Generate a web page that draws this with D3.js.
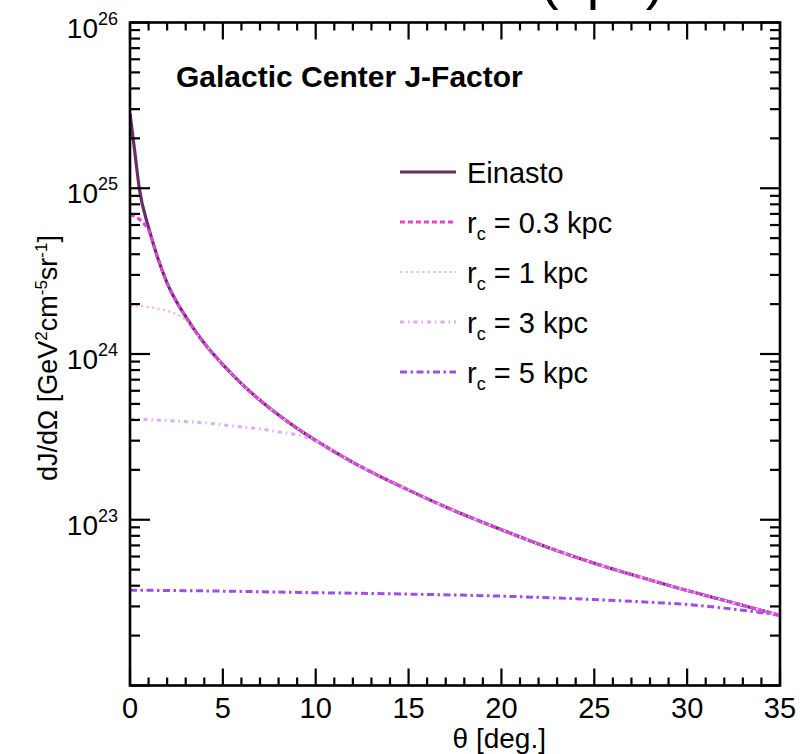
<!DOCTYPE html>
<html>
<head>
<meta charset="utf-8">
<script src="https://cdn.jsdelivr.net/npm/d3@7"></script>
<style>
  body { margin: 0; background: #fff; }
  svg { display: block; font-family: "Liberation Sans", Arial, Helvetica, sans-serif; }
</style>
</head>
<body>
<svg id="chart" width="801" height="754"></svg>
<script>
"use strict";

// values (theta in degrees, dJ/dOmega)
var thetaEinasto = [0, 0.25, 0.5, 1, 1.5, 2, 3, 4, 5, 6, 7, 8, 9, 10, 12, 15, 17.5, 20, 22.5, 25, 27.5, 30, 32.5, 35];
var einasto = [2.83e25, 1.69e25, 1.0e25, 5.8e24, 3.78e24, 2.68e24, 1.68e24, 1.16e24, 8.63e23, 6.62e23, 5.26e23, 4.28e23,
               3.56e23, 3.01e23, 2.22e23, 1.51e23, 1.13e23, 8.71e22, 6.81e22, 5.47e22, 4.50e22, 3.74e22, 3.15e22, 2.65e22];

// cored profiles: flat part before they join the Einasto curve
var thetaCore03 = [0, 0.25, 0.5, 0.75, 1];
var core03 = [6.9e24, 6.8e24, 6.5e24, 6.1e24, 5.6e24];
var thetaCore1 = [0, 1, 2, 2.5, 3, 3.5];
var core1 = [1.97e24, 1.92e24, 1.82e24, 1.74e24, 1.60e24, 1.36e24];
var thetaCore3 = [0, 2, 4, 6, 7, 8, 9, 10];
var core3 = [4.06e23, 3.97e23, 3.84e23, 3.63e23, 3.53e23, 3.39e23, 3.25e23, 2.98e23];
var thetaCore5 = [0, 5, 10, 15, 20, 25, 28, 30, 32, 33, 34, 35];
var core5 = [3.76e22, 3.71e22, 3.63e22, 3.56e22, 3.46e22, 3.30e22, 3.18e22, 3.08e22, 2.93e22, 2.84e22, 2.75e22, 2.65e22];

var xTicks = [0, 5, 10, 15, 20, 25, 30, 35];
var yDecades = [23, 24, 25, 26];

var margin = { left: 130, right: 21, top: 22.5, bottom: 68.5 };
var width = 801, height = 754;

var svg = d3.select("#chart");

var x = d3.scaleLinear().domain([0, 35]).range([margin.left, width - margin.right]);
var y = d3.scaleLog().domain([1e22, 1e26]).range([height - margin.bottom, margin.top]);

// joins the flat core part with the Einasto tail after it
function withTail(th, vals) {
  var last = th[th.length - 1];
  var pts = th.map(function (t, i) { return [t, vals[i]]; });
  thetaEinasto.forEach(function (t, i) {
    if (t > last) pts.push([t, einasto[i]]);
  });
  return pts;
}

var series = [
  { name: "Einasto", label: "Einasto", pts: thetaEinasto.map(function (t, i) { return [t, einasto[i]]; }),
    color: "#6a2c67", dash: null, w: 3.2 },
  { name: "c5", label: "5 kpc", pts: withTail(thetaCore5, core5), color: "#a24be6", dash: "7,3.5,2.5,3.5", w: 3 },
  { name: "c3", label: "3 kpc", pts: withTail(thetaCore3, core3), color: "#d9aef5", dash: "4,4,1.5,4", w: 3 },
  { name: "c1", label: "1 kpc", pts: withTail(thetaCore1, core1), color: "#f4baf4", dash: "2.5,3", w: 2.2 },
  { name: "c03", label: "0.3 kpc", pts: withTail(thetaCore03, core03), color: "#dc46dc", dash: "5,3", w: 3 }
];

// partly hidden heading above the frame
svg.append("text")
  .attr("x", 540).attr("y", -2)
  .attr("font-size", 56)
  .text("(kpc)");

var line = d3.line()
  .x(function (d) { return x(d[0]); })
  .y(function (d) { return y(d[1]); })
  .curve(d3.curveMonotoneX);

var plot = svg.append("g");
plot.append("clipPath").attr("id", "clip")
  .append("rect")
  .attr("x", margin.left).attr("y", margin.top)
  .attr("width", width - margin.left - margin.right)
  .attr("height", height - margin.top - margin.bottom);

plot.selectAll("path.curve")
  .data(series)
  .enter()
  .append("path")
  .attr("class", "curve")
  .attr("clip-path", "url(#clip)")
  .attr("d", function (d) { return line(d.pts); })
  .attr("fill", "none")
  .attr("stroke", function (d) { return d.color; })
  .attr("stroke-width", function (d) { return d.w; })
  .attr("stroke-dasharray", function (d) { return d.dash; });

// ticks: x every degree, y 1..9 per decade
var xMinor = d3.range(0, 36, 1);
var yAll = y.ticks();

function tickLines(g, vals, isMajor, pos, majorLen, minorLen, dir, vertical) {
  g.selectAll("line")
    .data(vals)
    .enter()
    .append("line")
    .attr("x1", function (d) { return vertical ? pos : x(d); })
    .attr("x2", function (d) { return vertical ? pos + dir * (isMajor(d) ? majorLen : minorLen) : x(d); })
    .attr("y1", function (d) { return vertical ? y(d) : pos; })
    .attr("y2", function (d) { return vertical ? y(d) : pos + dir * (isMajor(d) ? majorLen : minorLen); })
    .attr("stroke", "#000")
    .attr("stroke-width", 2.2);
}

function xMaj(d) { return d % 5 === 0; }
function yMaj(d) { return Math.abs(Math.log10(d) - Math.round(Math.log10(d))) < 1e-6; }

var axes = svg.append("g");
tickLines(axes.append("g"), xMinor, xMaj, y.range()[0], 17, 8, -1, false);
tickLines(axes.append("g"), xMinor, xMaj, y.range()[1], 17, 8, 1, false);
tickLines(axes.append("g"), yAll, yMaj, x.range()[0], 20, 10, 1, true);
tickLines(axes.append("g"), yAll, yMaj, x.range()[1], 20, 10, -1, true);

axes.append("rect")
  .attr("x", x.range()[0]).attr("y", y.range()[1])
  .attr("width", x.range()[1] - x.range()[0])
  .attr("height", y.range()[0] - y.range()[1])
  .attr("fill", "none")
  .attr("stroke", "#000")
  .attr("stroke-width", 2.6);

// tick labels
svg.append("g").selectAll("text")
  .data(xTicks)
  .enter()
  .append("text")
  .attr("x", function (d) { return x(d); })
  .attr("y", 718)
  .attr("text-anchor", "middle")
  .attr("font-size", 29)
  .text(function (d) { return d; });

var yl = svg.append("g").selectAll("text")
  .data(yDecades)
  .enter()
  .append("text")
  .attr("x", 118)
  .attr("y", function (d) { return y(Math.pow(10, d)) + 15; })
  .attr("text-anchor", "end")
  .attr("font-size", 28);
yl.append("tspan").text("10");
yl.append("tspan").attr("dy", -13).attr("font-size", 18).text(function (d) { return d; });

// axis titles
svg.append("text")
  .attr("x", 546).attr("y", 748)
  .attr("text-anchor", "end")
  .attr("font-size", 28)
  .text("θ [deg.]");

var yt = svg.append("text")
  .attr("transform", "translate(57,358) rotate(-90)")
  .attr("text-anchor", "middle")
  .attr("font-size", 27);
yt.append("tspan").text("dJ/dΩ [GeV");
yt.append("tspan").attr("dy", -10).attr("font-size", 17).text("2");
yt.append("tspan").attr("dy", 10).text("cm");
yt.append("tspan").attr("dy", -10).attr("font-size", 17).text("-5");
yt.append("tspan").attr("dy", 10).text("sr");
yt.append("tspan").attr("dy", -10).attr("font-size", 17).text("-1");
yt.append("tspan").attr("dy", 10).text("]");

svg.append("text")
  .attr("x", 176).attr("y", 87)
  .attr("font-size", 30)
  .attr("font-weight", "bold")
  .text("Galactic Center J-Factor");

// legend
var legendOrder = ["Einasto", "c03", "c1", "c3", "c5"];
var legendItems = legendOrder.map(function (n) { return series.find(function (s) { return s.name === n; }); });

var legend = svg.append("g").attr("class", "legend");
var rows = legend.selectAll("g")
  .data(legendItems)
  .enter()
  .append("g")
  .attr("transform", function (d, i) { return "translate(0," + (172 + 50 * i) + ")"; });

rows.append("line")
  .attr("x1", 400).attr("x2", 456)
  .attr("stroke", function (d) { return d.color; })
  .attr("stroke-width", function (d) { return d.w; })
  .attr("stroke-dasharray", function (d) { return d.dash; });

var lt = rows.append("text")
  .attr("x", 467).attr("y", 11)
  .attr("font-size", 29);
lt.each(function (d) {
  var t = d3.select(this);
  if (d.name === "Einasto") {
    t.text("Einasto");
  } else {
    t.append("tspan").text("r");
    t.append("tspan").attr("dy", 7).attr("font-size", 18).text("c");
    t.append("tspan").attr("dy", -7).text(" = " + d.label);
  }
});
</script>
</body>
</html>
